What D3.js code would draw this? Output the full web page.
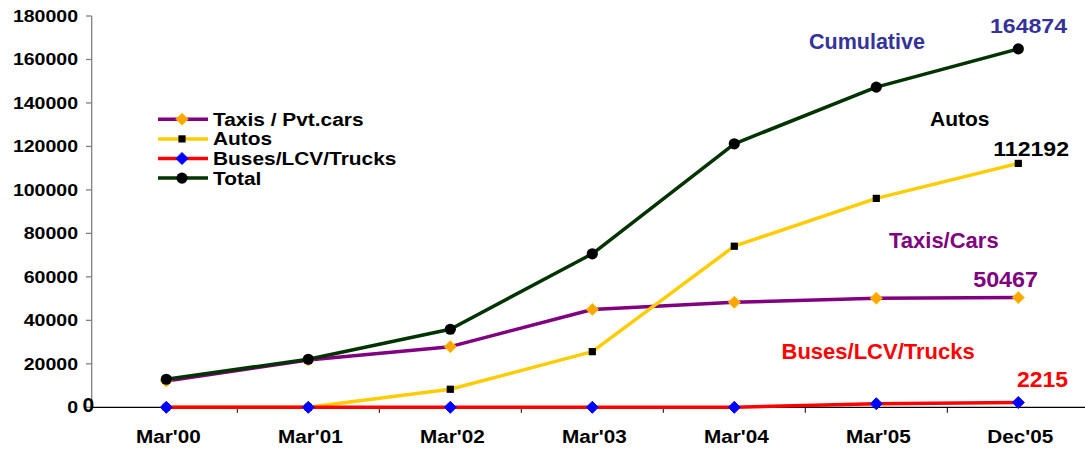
<!DOCTYPE html>
<html>
<head>
<meta charset="utf-8">
<script src="https://cdn.jsdelivr.net/npm/d3@7"></script>
<style>
  body { margin: 0; background: #fff; }
  text { font-family: Arial, "Liberation Sans", sans-serif; font-weight: bold; }
</style>
</head>
<body>
<div id="chart"></div>
<script>
const categories = ["Mar'00", "Mar'01", "Mar'02", "Mar'03", "Mar'04", "Mar'05", "Dec'05"];
const taxis = [12100, 21800, 27900, 45000, 48300, 50200, 50467];
const autos = [0, 0, 8300, 25600, 74100, 96100, 112192];
const buses = [0, 0, 0, 0, 0, 1650, 2215];
const total = [12900, 22100, 35900, 70600, 121200, 147300, 164874];
const yTicks = [0, 20000, 40000, 60000, 80000, 100000, 120000, 140000, 160000, 180000];

const series = [
  { name: "Taxis / Pvt.cars", values: taxis, line: "#800080", marker: "diamond", fill: "#FFA500", stroke: "#FFC000" },
  { name: "Autos", values: autos, line: "#FFCC00", marker: "square", fill: "#000", stroke: "#000" },
  { name: "Buses/LCV/Trucks", values: buses, line: "#FF0000", marker: "diamond", fill: "#0000FF", stroke: "#0000FF" },
  { name: "Total", values: total, line: "#003300", marker: "circle", fill: "#000", stroke: "#000" }
];

const W = 1085, H = 451;
const svg = d3.select("#chart").append("svg")
  .attr("width", W)
  .attr("height", H);

const x = d3.scaleBand()
  .domain(categories)
  .range([95.3, 95.3 + 142 * categories.length])
  .paddingInner(0);

const y = d3.scaleLinear()
  .domain([0, 180000])
  .range([407.3, 16]);

const cx = d => x(d) + x.bandwidth() / 2;

// stretched text helper
function label(g, px, py, str, size, color, sx, anchor) {
  return g.append("text")
    .attr("transform", `translate(${px},${py}) scale(${sx},1)`)
    .attr("text-anchor", anchor || "start")
    .style("font-size", size + "px")
    .attr("fill", color)
    .text(str);
}

// y axis
const yAxis = svg.append("g");
yAxis.append("line")
  .attr("x1", 91.7).attr("x2", 91.7)
  .attr("y1", y(180000)).attr("y2", y(0))
  .attr("stroke", "#808080").attr("stroke-width", 1.3);
yAxis.selectAll(".tick")
  .data(yTicks)
  .join("line")
  .attr("x1", 86).attr("x2", 91.7)
  .attr("y1", d => y(d)).attr("y2", d => y(d))
  .attr("stroke", "#808080").attr("stroke-width", 1.3);
yTicks.forEach(t => {
  label(yAxis, 78, y(t) + 5.8, t, 16, "#000", 1.22, "end");
});

// x axis
const xAxis = svg.append("g");
xAxis.append("line")
  .attr("x1", 91.7).attr("x2", W)
  .attr("y1", y(0)).attr("y2", y(0))
  .attr("stroke", "#000").attr("stroke-width", 1.3);
xAxis.selectAll("line.tk")
  .data(categories.slice(1))
  .join("line")
  .attr("class", "tk")
  .attr("x1", d => x(d)).attr("x2", d => x(d))
  .attr("y1", y(0)).attr("y2", y(0) + 5.5)
  .attr("stroke", "#000").attr("stroke-width", 1);
categories.forEach(c => {
  label(xAxis, cx(c) + 2, 442.5, c, 18.5, "#000", 1.12, "middle");
});

// lines
const line = d3.line()
  .x((d, i) => cx(categories[i]))
  .y(d => y(d));

function marker(g, s, px, py) {
  if (s.marker === "diamond") {
    g.append("path")
      .attr("d", `M${px},${py - 6} L${px + 6},${py} L${px},${py + 6} L${px - 6},${py} Z`)
      .attr("fill", s.fill).attr("stroke", s.stroke).attr("stroke-width", 1);
  } else if (s.marker === "square") {
    g.append("rect")
      .attr("x", px - 3.6).attr("y", py - 3.6)
      .attr("width", 7.2).attr("height", 7.2)
      .attr("fill", s.fill);
  } else {
    g.append("circle")
      .attr("cx", px).attr("cy", py).attr("r", 5.6)
      .attr("fill", s.fill);
  }
}

series.forEach(s => {
  const g = svg.append("g");
  g.append("path")
    .datum(s.values)
    .attr("d", line)
    .attr("fill", "none")
    .attr("stroke", s.line)
    .attr("stroke-width", 3.5)
    .attr("stroke-linejoin", "round");
  s.values.forEach((v, i) => marker(g, s, cx(categories[i]), y(v)));
});

// legend
const legend = svg.append("g");
series.forEach((s, i) => {
  const ry = 119.3 + i * 19.6;
  legend.append("line")
    .attr("x1", 158).attr("x2", 208)
    .attr("y1", ry).attr("y2", ry)
    .attr("stroke", s.line).attr("stroke-width", 3.5);
  marker(legend, s, 182, ry);
  label(legend, 213, ry + 6.5, s.name, 18.5, "#000", 1.13);
});

// annotations
const ann = svg.append("g");
label(ann, 809, 49, "Cumulative", 21.5, "#333399", 1);
label(ann, 1067, 33, d3.format("d")(total[6]), 21, "#333399", 1.1, "end");
label(ann, 930, 126, "Autos", 21, "#000", 1);
label(ann, 1069, 156, d3.format("d")(autos[6]), 21, "#000", 1.1, "end");
label(ann, 889, 248, "Taxis/Cars", 22, "#800080", 1);
label(ann, 1038, 286.5, d3.format("d")(taxis[6]), 22, "#800080", 1.06, "end");
label(ann, 781.5, 359, "Buses/LCV/Trucks", 22, "#FF0000", 1);
label(ann, 1068, 387, d3.format("d")(buses[6]), 22, "#FF0000", 1.04, "end");
label(ann, 82.5, 411.5, buses[0], 21, "#000", 1);
</script>
</body>
</html>
